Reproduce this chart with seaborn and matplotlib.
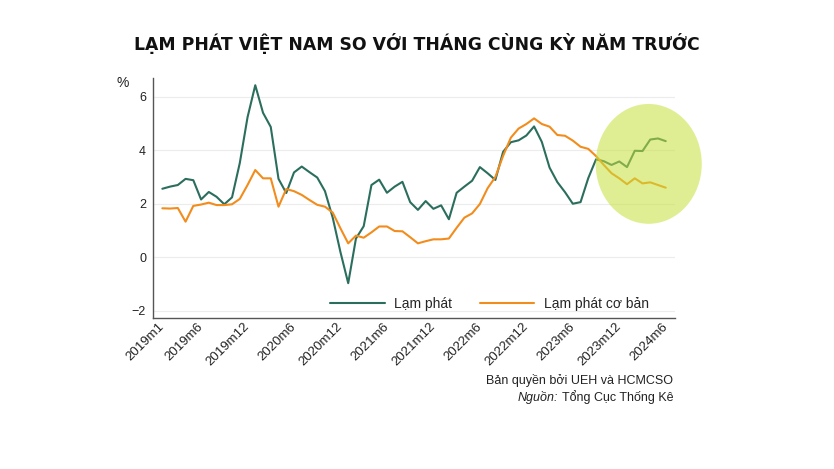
import numpy as np
import pandas as pd
import matplotlib
matplotlib.use("Agg")
import matplotlib.pyplot as plt
from matplotlib.patches import Ellipse
import seaborn as sns

# monthly categories 2019m1 .. 2024m6
months = [f"{y}m{m}" for y in range(2019, 2025) for m in range(1, 13)][:66]

lam_phat = [
    2.56, 2.64, 2.70, 2.93, 2.88, 2.16, 2.44, 2.26, 1.98, 2.24, 3.52, 5.23,
    6.43, 5.40, 4.87, 2.93, 2.40, 3.17, 3.39, 3.18, 2.98, 2.47, 1.48, 0.19,
    -0.97, 0.70, 1.16, 2.70, 2.90, 2.41, 2.64, 2.82, 2.06, 1.77, 2.10, 1.81,
    1.94, 1.42, 2.41, 2.64, 2.86, 3.37, 3.14, 2.89, 3.94, 4.30, 4.37, 4.55,
    4.89, 4.31, 3.35, 2.81, 2.43, 2.00, 2.06, 2.96, 3.66, 3.59, 3.45, 3.58,
    3.37, 3.98, 3.97, 4.40, 4.44, 4.34,
]

lam_phat_co_ban = [
    1.83, 1.82, 1.84, 1.33, 1.92, 1.97, 2.04, 1.95, 1.95, 1.98, 2.18, 2.70,
    3.26, 2.95, 2.95, 1.89, 2.55, 2.47, 2.33, 2.14, 1.96, 1.89, 1.67, 1.08,
    0.52, 0.81, 0.73, 0.93, 1.15, 1.15, 0.98, 0.97, 0.75, 0.52, 0.60, 0.67,
    0.67, 0.70, 1.10, 1.48, 1.64, 1.99, 2.58, 3.00, 3.79, 4.47, 4.81, 4.98,
    5.19, 4.98, 4.88, 4.57, 4.54, 4.36, 4.13, 4.05, 3.78, 3.45, 3.14, 2.95,
    2.73, 2.95, 2.76, 2.80, 2.70, 2.60,
]

tick_labels = ["2019m1", "2019m6", "2019m12", "2020m6", "2020m12", "2021m6",
               "2021m12", "2022m6", "2022m12", "2023m6", "2023m12", "2024m6"]
y_ticks = [-2, 0, 2, 4, 6]

series_names = ["Lạm phát", "Lạm phát cơ bản"]
colors = ["#2b6e5d", "#f28c1c"]

df = pd.DataFrame({
    "idx": list(range(len(months))) * 2,
    "value": lam_phat + lam_phat_co_ban,
    "series": [series_names[0]] * len(months) + [series_names[1]] * len(months),
})

sns.set_style("white")
plt.rcParams["font.family"] = ["Liberation Sans", "DejaVu Sans"]

fig = plt.figure(figsize=(8.34, 4.69), dpi=100)
ax = fig.add_axes([0.1835, 0.322, 0.6259, 0.5117])

sns.lineplot(data=df, x="idx", y="value", hue="series", palette=colors,
             linewidth=1.5, ax=ax, legend=True)

# highlighted zone on the latest months
ax.add_patch(Ellipse((62.8, 3.49), 13.7, 4.48, facecolor="#c8e03a",
                     alpha=0.55, edgecolor="none", zorder=5, clip_on=False))

ax.set_xlim(-1.2, 66.2)
ax.set_ylim(-2.27, 6.7)
ax.set_yticks(y_ticks)
ax.set_yticklabels([f"{v}" if v >= 0 else f"\u2212{abs(v)}" for v in y_ticks],
                   fontsize=9, color="#222222")
ax.set_xticks([months.index(t) for t in tick_labels])
ax.set_xticklabels(tick_labels, rotation=45, ha="right", va="center",
                   rotation_mode="anchor", fontsize=9.5, color="#222222")
ax.tick_params(axis="both", length=0, pad=5)
ax.set_xlabel("")
ax.set_ylabel("")
ax.grid(axis="y", color="#ececec", linewidth=0.8)
ax.set_axisbelow(True)
for s in ["top", "right"]:
    ax.spines[s].set_visible(False)
for s in ["left", "bottom"]:
    ax.spines[s].set_color("#555555")
    ax.spines[s].set_linewidth(1.0)

ax.text(-0.058, 0.979, "%", transform=ax.transAxes, fontsize=10,
        ha="center", va="center", color="#222222")

leg = ax.legend(ncol=2, loc="center", bbox_to_anchor=(0.645, 0.058),
                frameon=False, fontsize=10, handlelength=3.9,
                handletextpad=0.7, columnspacing=2.0, borderpad=0)
for line in leg.get_lines():
    line.set_linewidth(1.5)

fig.text(0.5, 0.908, "LẠM PHÁT VIỆT NAM SO VỚI THÁNG CÙNG KỲ NĂM TRƯỚC",
         ha="center", va="center", fontsize=12.4, fontweight="bold",
         family=["DejaVu Sans"], color="#111111")

fig.text(0.807, 0.181, "Bản quyền bởi UEH và HCMCSO", ha="right",
         va="baseline", fontsize=9, color="#222222")
src = fig.text(0.807, 0.145, "Tổng Cục Thống Kê", ha="right", va="baseline",
               fontsize=9, color="#222222")
fig.canvas.draw()
bb = src.get_window_extent(renderer=fig.canvas.get_renderer())
x_left = bb.x0 / fig.bbox.width - 0.004
fig.text(x_left, 0.145, "Nguồn:", ha="right", va="baseline",
         fontsize=9, style="italic", color="#222222")

fig.savefig("out.png", dpi=100)
